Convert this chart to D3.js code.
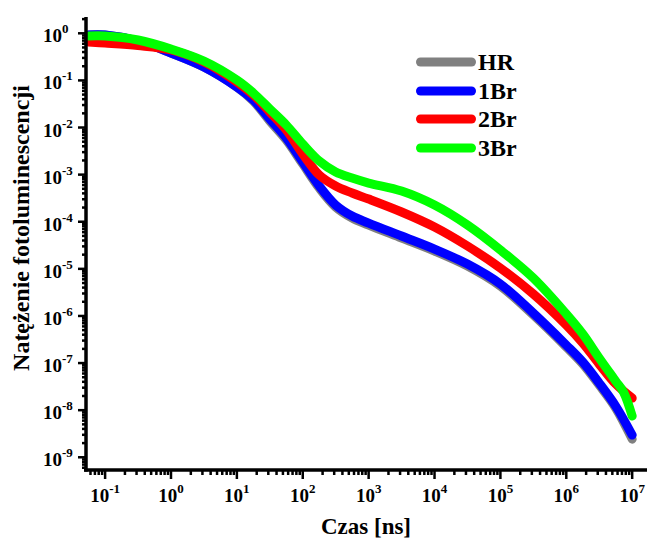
<!DOCTYPE html>
<html>
<head>
<meta charset="utf-8">
<script src="https://cdn.jsdelivr.net/npm/d3@7"></script>
<style>
  html, body { margin: 0; padding: 0; background: #fff; }
  svg { display: block; }
  text { font-family: "Liberation Serif", "Times New Roman", serif; font-weight: bold; fill: #000; }
</style>
</head>
<body>
<svg id="chart" width="647" height="540"></svg>
<script>
// Photoluminescence decay: time [ns] vs intensity, log-log
const time = [0.056, 0.1, 0.316, 1, 3.16, 10, 17.8, 31.6, 56.2, 100, 178, 316, 562,
              1000, 3162, 1e4, 3.16e4, 1e5, 3.16e5, 1e6, 1.78e6, 3.16e6, 5.62e6, 1e7];
const timeGreen = time.slice(0, 23).concat([7.4e6, 1e7]);

const hr  = [0.920, 0.920, 0.686, 0.382, 0.1925, 0.0724, 0.0365, 0.01374, 0.00543, 0.00168, 0.000519, 0.000205,
             0.000120, 8.51e-5, 4.51e-5, 2.39e-5, 1.147e-5, 4.31e-6, 1.045e-6, 2.19e-7, 9.52e-8, 3.41e-8, 1.11e-8, 2.43e-9];
const br1 = [0.920, 0.920, 0.686, 0.382, 0.1925, 0.0724, 0.0384, 0.01515, 0.00598, 0.00185, 0.000573, 0.000226,
             0.000132, 9.38e-5, 4.97e-5, 2.63e-5, 1.264e-5, 4.76e-6, 1.15e-6, 2.41e-7, 1.05e-7, 3.76e-8, 1.22e-8, 2.96e-9];
const br2 = [0.654, 0.622, 0.551, 0.442, 0.246, 0.0925, 0.0490, 0.0213, 0.00885, 0.00274, 0.00098, 0.000573,
             0.000407, 0.000303, 0.000161, 7.72e-5, 3.05e-5, 1.04e-5, 2.92e-6, 6.41e-7, 2.66e-7, 9.52e-8, 3.6e-8, 1.8e-8];
const br3 = [0.876, 0.876, 0.721, 0.464, 0.258, 0.1020, 0.0540, 0.0247, 0.0113, 0.00446, 0.00194, 0.001136,
             0.000847, 0.000663, 0.000448, 0.000226, 8.51e-5, 2.51e-5, 6.38e-6, 1.10e-6, 4.13e-7, 1.28e-7, 4.15e-8, 2.42e-8, 7.5e-9];

const seriesNames  = ["HR", "1Br", "2Br", "3Br"];
const seriesColors = ["#808080", "#0000ff", "#ff0000", "#00ff00"];
const seriesTimes  = [time, time, time, timeGreen];
const seriesValues = [hr, br1, br2, br3];

const xExponents = [-1, 0, 1, 2, 3, 4, 5, 6, 7];
const yExponents = [0, -1, -2, -3, -4, -5, -6, -7, -8, -9];

const svg = d3.select("#chart");
const plotLeft = 86, plotRight = 647, plotTop = 17, plotBottom = 470;

const x = d3.scaleLog().domain([Math.pow(10, -1.29), Math.pow(10, 7.225)]).range([plotLeft, plotRight]);
const y = d3.scaleLog().domain([Math.pow(10, -9.27), Math.pow(10, 0.346)]).range([plotBottom, plotTop]);

// curves
const line = d3.line()
  .x(d => x(d[0]))
  .y(d => y(d[1]))
  .curve(d3.curveCatmullRom.alpha(0.5));

seriesNames.forEach((name, i) => {
  const pts = seriesTimes[i].map((t, k) => [t, seriesValues[i][k]]);
  svg.append("path")
    .attr("d", line(pts))
    .attr("fill", "none")
    .attr("stroke", seriesColors[i])
    .attr("stroke-width", 9)
    .attr("stroke-linecap", "round")
    .attr("stroke-linejoin", "round");
});

// minor tick values (2..9 per decade)
function minors(lo, hi) {
  const out = [];
  for (let e = lo; e <= hi; e++) for (let m = 2; m <= 9; m++) out.push(m * Math.pow(10, e));
  return out;
}

// x axis
const xMinor = minors(-2, 7).filter(v => x(v) >= plotLeft && x(v) <= plotRight);
const gx = svg.append("g");
gx.selectAll(".mn").data(xMinor).join("line")
  .attr("x1", d => x(d)).attr("x2", d => x(d))
  .attr("y1", plotBottom).attr("y2", plotBottom + 5)
  .attr("stroke", "#000").attr("stroke-width", 2.5);
gx.selectAll(".mj").data(xExponents).join("line")
  .attr("x1", d => x(Math.pow(10, d))).attr("x2", d => x(Math.pow(10, d)))
  .attr("y1", plotBottom).attr("y2", plotBottom + 9)
  .attr("stroke", "#000").attr("stroke-width", 2.5);
const xl = gx.selectAll(".lb").data(xExponents).join("text")
  .attr("x", d => x(Math.pow(10, d)))
  .attr("y", 502)
  .attr("text-anchor", "middle")
  .style("font-size", "19px");
xl.append("tspan").text("10");
xl.append("tspan").attr("dy", -9).style("font-size", "13px").text(d => String(d));
gx.append("line").attr("x1", plotLeft - 2).attr("x2", plotRight).attr("y1", plotBottom).attr("y2", plotBottom)
  .attr("stroke", "#000").attr("stroke-width", 3.5);

// y axis
const yMinor = minors(-10, 0).filter(v => y(v) >= plotTop && y(v) <= plotBottom);
const gy = svg.append("g");
gy.selectAll(".mn").data(yMinor).join("line")
  .attr("x1", plotLeft - 4).attr("x2", plotLeft)
  .attr("y1", d => y(d)).attr("y2", d => y(d))
  .attr("stroke", "#000").attr("stroke-width", 2.5);
gy.selectAll(".mj").data(yExponents).join("line")
  .attr("x1", plotLeft - 8).attr("x2", plotLeft)
  .attr("y1", d => y(Math.pow(10, d))).attr("y2", d => y(Math.pow(10, d)))
  .attr("stroke", "#000").attr("stroke-width", 2.5);
const yl = gy.selectAll(".lb").data(yExponents).join("text")
  .attr("x", 43)
  .attr("y", d => y(Math.pow(10, d)) + 9)
  .attr("text-anchor", "start")
  .style("font-size", "19px");
yl.append("tspan").text("10");
yl.append("tspan").attr("dy", -9).style("font-size", "13px").text(d => String(d));
gy.append("line").attr("x1", plotLeft).attr("x2", plotLeft).attr("y1", plotTop).attr("y2", plotBottom + 1.75)
  .attr("stroke", "#000").attr("stroke-width", 3.5);

// axis titles
svg.append("text")
  .attr("x", 366).attr("y", 534)
  .attr("text-anchor", "middle")
  .style("font-size", "23px")
  .text("Czas [ns]");
svg.append("text")
  .attr("transform", "translate(29,228) rotate(-90)")
  .attr("text-anchor", "middle")
  .style("font-size", "24px")
  .text("Natężenie fotoluminescencji");

// legend
const legendY = [62, 91, 119, 148];
const lg = svg.append("g");
seriesNames.forEach((name, i) => {
  lg.append("line")
    .attr("x1", 420.5).attr("x2", 471.5)
    .attr("y1", legendY[i]).attr("y2", legendY[i])
    .attr("stroke", seriesColors[i]).attr("stroke-width", 9)
    .attr("stroke-linecap", "round");
  lg.append("text")
    .attr("x", 478).attr("y", legendY[i] + 8)
    .style("font-size", "24px")
    .text(name);
});
</script>
</body>
</html>
